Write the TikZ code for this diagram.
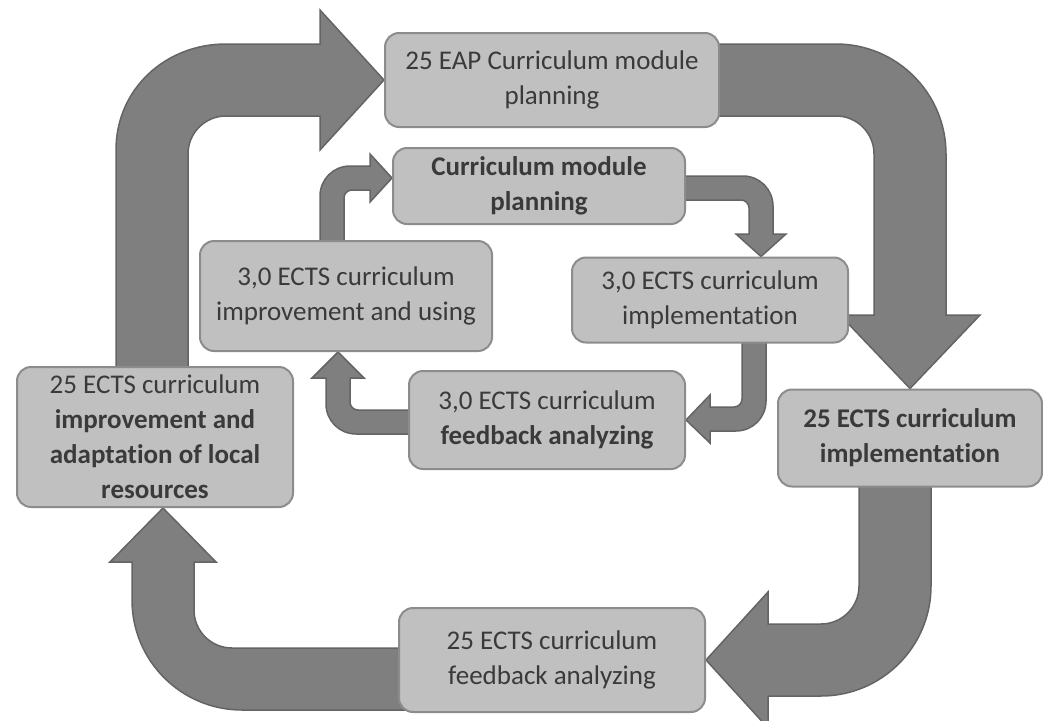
\documentclass[tikz,border=0pt]{standalone}
\usepackage{fontspec}
\setmainfont[Ligatures=NoCommon]{Carlito}
\usetikzlibrary{calc}
\pgfdeclarelayer{bg}
\pgfsetlayers{bg,main}
\definecolor{boxfill}{RGB}{192,192,192}
\definecolor{boxline}{RGB}{140,140,140}
\definecolor{arrfill}{RGB}{127,127,127}
\definecolor{arrline}{RGB}{100,100,100}
\definecolor{txt}{RGB}{58,58,58}
\begin{document}
\begin{tikzpicture}[x=1pt,y=-1pt,
  stage/.style={draw=boxline,line width=2pt,fill=boxfill,rounded corners=14pt,
    align=center,text=txt,inner sep=3pt,
    font=\fontsize{27}{35}\selectfont},
  heavy/.style={font=\fontsize{27}{35}\selectfont\bfseries},
  blockarrow/.style={fill=arrfill,draw=arrline,line width=1.5pt,line join=miter}]
\useasboundingbox (0,0) rectangle (1043,720);

% nodes
\node[stage,minimum width=334pt,minimum height=94pt] (top) at (552,80)
  {25 EAP Curriculum module\\planning};
\node[stage,minimum width=292pt,minimum height=76pt,heavy] (itop) at (539,186)
  {Curriculum module\\planning};
\node[stage,minimum width=292pt,minimum height=110pt] (ileft) at (346,296)
  {3,0 ECTS curriculum\\improvement and using};
\node[stage,minimum width=276pt,minimum height=85pt] (iright) at (710,300)
  {3,0 ECTS curriculum\\implementation};
\node[stage,minimum width=276pt,minimum height=98pt] (ibot) at (547,420)
  {3,0 ECTS curriculum\\\textbf{feedback analyzing}};
\node[stage,minimum width=276pt,minimum height=140pt] (oleft) at (155,437)
  {25 ECTS curriculum\\\textbf{improvement and}\\\textbf{adaptation of local}\\\textbf{resources}};
\node[stage,minimum width=264pt,minimum height=97pt,heavy] (oright) at (910,438)
  {25 ECTS curriculum\\implementation};
\node[stage,minimum width=306pt,minimum height=104pt] (obot) at (552,660)
  {25 ECTS curriculum\\feedback analyzing};

\begin{pgfonlayer}{bg}
\fill[white] (0,0) rectangle (1043,720);
% outer cycle
\draw[blockarrow] (116,380) -- (116,150) .. controls (116,89.25) and (165.25,44) .. (226,44)
  -- (320,44) -- (320,10) -- (top.west) -- (320,150) -- (320,116) -- (226,116)
  .. controls (205,116) and (188,133) .. (188,154) -- (188,380) -- cycle;
\draw[blockarrow] (700,44) -- (836,44) .. controls (896.75,44) and (946,93.25) .. (946,154)
  -- (946,315) -- (980,315) -- (oright.north) -- (840,315) -- (874,315) -- (874,154)
  .. controls (874,133) and (857,116) .. (836,116) -- (700,116) -- cycle;
\draw[blockarrow] (859,470) -- (931,470) -- (931,586) .. controls (931,646.75) and (881.75,696) .. (821,696)
  -- (768,696) -- (768,728) -- (obot.east) -- (768,592) -- (768,624) -- (821,624)
  .. controls (842,624) and (859,607) .. (859,586) -- cycle;
\draw[blockarrow] (420,648) -- (232,648) .. controls (211,648) and (194,631) .. (194,610)
  -- (194,562) -- (216,562) -- ($(oleft.south)+(8,0)$) -- (110,562) -- (132,562) -- (132,600)
  .. controls (132,660.75) and (181.25,710) .. (242,710) -- (420,710) -- cycle;
% inner cycle
\draw[blockarrow] (320,250) -- (320,196) .. controls (320,179.4) and (333.4,166) .. (350,166)
  -- (370,166) -- (370,154) -- ($(itop.west)+(0,-8)$) -- (370,202) -- (370,190) -- (352,190)
  .. controls (347.6,190) and (344,193.6) .. (344,198) -- (344,250) -- cycle;
\draw[blockarrow] (675,176) -- (743,176) .. controls (759.6,176) and (773,189.4) .. (773,206)
  -- (773,234) -- (786,234) -- ($(iright.north)+(51,0)$) -- (736,234) -- (749,234) -- (749,208)
  .. controls (749,203.6) and (745.4,200) .. (741,200) -- (675,200) -- cycle;
\draw[blockarrow] (742,335) -- (766,335) -- (766,401) .. controls (766,417.6) and (752.6,431) .. (736,431)
  -- (710,431) -- (710,443) -- (ibot.east) -- (710,395) -- (710,407) -- (734,407)
  .. controls (738.4,407) and (742,403.4) .. (742,399) -- cycle;
\draw[blockarrow] (420,410) -- (358,410) .. controls (353.6,410) and (350,406.4) .. (350,402)
  -- (350,378) -- (364,378) -- ($(ileft.south)+(-8,0)$) -- (312,378) -- (326,378) -- (326,404)
  .. controls (326,420.6) and (339.4,434) .. (356,434) -- (420,434) -- cycle;
\end{pgfonlayer}
\end{tikzpicture}
\end{document}
